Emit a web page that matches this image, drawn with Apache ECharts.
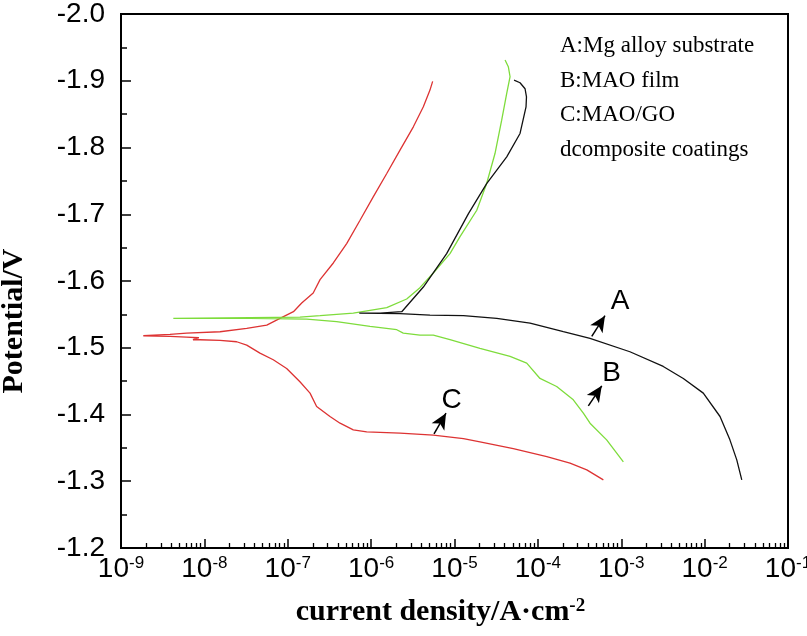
<!DOCTYPE html>
<html><head><meta charset="utf-8">
<script src="https://cdn.jsdelivr.net/npm/echarts@6/dist/echarts.min.js"></script>
<style>html,body{margin:0;padding:0;background:#fff}#c{width:807px;height:636px}</style>
</head><body><div id="c"></div>
<script>
// ---- data (current density in A/cm^2, potential in V) ----
const xTickExponents = [-9, -8, -7, -6, -5, -4, -3, -2, -1];

// A: Mg alloy substrate (black)
const currentA = [2.79e-2, 2.43e-2, 2.01e-2, 1.53e-2, 9.64e-3, 5.55e-3, 3.19e-3, 1.27e-3, 4.22e-4, 2.02e-4, 8.06e-5, 3.21e-5, 1.28e-5, 5.08e-6, 2.22e-6, 7.21e-7, 1.28e-6, 2.33e-6, 4.23e-6, 8.05e-6, 1.47e-5, 2.43e-5, 4.23e-5, 6.11e-5, 7.21e-5, 7.30e-5, 7.02e-5, 6.11e-5, 5.18e-5];
const potentialA = [-1.302, -1.332, -1.362, -1.397, -1.432, -1.454, -1.472, -1.494, -1.514, -1.524, -1.537, -1.544, -1.548, -1.549, -1.551, -1.552, -1.552, -1.554, -1.591, -1.641, -1.701, -1.746, -1.786, -1.821, -1.861, -1.876, -1.888, -1.897, -1.901];

// B: MAO film (green)
const currentB = [1.06e-3, 6.68e-4, 4.22e-4, 3.51e-4, 2.66e-4, 1.68e-4, 1.06e-4, 7.35e-5, 4.64e-5, 2.02e-5, 8.83e-6, 5.57e-6, 3.85e-6, 2.43e-6, 2.03e-6, 9.7e-7, 3.86e-7, 1.69e-7, 3.52e-8, 4.24e-9, 3.52e-8, 1.40e-7, 2.44e-7, 6.11e-7, 1.54e-6, 2.67e-6, 3.85e-6, 5.57e-6, 8.83e-6, 1.16e-5, 1.85e-5, 2.43e-5, 3.06e-5, 3.68e-5, 4.23e-5, 4.64e-5, 4.42e-5, 4.04e-5];
const potentialB = [-1.329, -1.362, -1.387, -1.402, -1.422, -1.442, -1.454, -1.477, -1.487, -1.499, -1.512, -1.519, -1.519, -1.522, -1.527, -1.532, -1.539, -1.543, -1.544, -1.544, -1.545, -1.546, -1.548, -1.552, -1.560, -1.573, -1.590, -1.612, -1.641, -1.666, -1.706, -1.746, -1.791, -1.841, -1.881, -1.906, -1.921, -1.931];

// C: MAO/GO composite coatings (red)
const currentC = [6.1e-4, 3.86e-4, 2.43e-4, 1.28e-4, 5.07e-5, 2.02e-5, 1.28e-5, 5.57e-6, 2.22e-6, 8.85e-7, 6.11e-7, 4.24e-7, 3.21e-7, 2.22e-7, 1.85e-7, 1.40e-7, 9.7e-8, 6.7e-8, 4.64e-8, 3.22e-8, 2.44e-8, 1.54e-8, 8.87e-9, 7.3e-9, 8.6e-9, 6.1e-9, 3.87e-9, 1.85e-9, 3.87e-9, 6.14e-9, 1.54e-8, 3.22e-8, 5.6e-8, 8.07e-8, 1.17e-7, 1.47e-7, 2.02e-7, 2.44e-7, 3.52e-7, 5.09e-7, 7.36e-7, 1.06e-6, 1.54e-6, 2.22e-6, 3.21e-6, 4.23e-6, 5.08e-6, 5.47e-6];
const potentialC = [-1.302, -1.317, -1.327, -1.337, -1.349, -1.359, -1.364, -1.369, -1.372, -1.374, -1.377, -1.387, -1.397, -1.412, -1.432, -1.449, -1.469, -1.482, -1.492, -1.504, -1.509, -1.511, -1.512, -1.512, -1.515, -1.516, -1.517, -1.518, -1.520, -1.522, -1.524, -1.529, -1.534, -1.544, -1.554, -1.567, -1.582, -1.602, -1.627, -1.656, -1.691, -1.726, -1.761, -1.796, -1.831, -1.861, -1.886, -1.899];

// annotations (label positions and arrows)
const annotationLabels = ['A', 'B', 'C'];
const annotationCurrent = [9.66e-4, 7.67e-4, 9.25e-6];
const annotationPotential = [-1.570, -1.462, -1.422];
const arrowStartCurrent = [4.43e-4, 4.03e-4, 5.68e-6];
const arrowStartPotential = [-1.517, -1.413, -1.371];
const arrowEndCurrent = [6.38e-4, 5.84e-4, 7.91e-6];
const arrowEndPotential = [-1.548, -1.443, -1.402];

const legendLines = ['A:Mg alloy substrate', 'B:MAO film', 'C:MAO/GO', 'dcomposite coatings'];

// ---- chart ----
const SANS = '"Liberation Sans", Arial, sans-serif';
const SERIF = '"Liberation Serif", "Times New Roman", serif';
const zip = (xs, ys) => xs.map((x, i) => [x, ys[i]]);

const minorTicks = [];
xTickExponents.slice(0, -1).forEach(e => { for (let k = 2; k <= 9; k++) minorTicks.push(e + Math.log10(k)); });

const chart = echarts.init(document.getElementById('c'), null, { renderer: 'canvas' });

const lineSeries = (name, xs, ys, color) => ({
  type: 'line', name, data: zip(xs, ys), showSymbol: false, symbol: 'none',
  lineStyle: { color, width: 1.3 }, itemStyle: { color }, z: 3
});

const seriesA = lineSeries('A', currentA, potentialA, '#111111');
seriesA.markLine = {
  silent: true, symbol: ['none', 'arrow'], symbolSize: [11, 16],
  label: { show: false },
  lineStyle: { type: 'solid', color: '#000', width: 1.5 },
  data: annotationLabels.map((_, i) => [
    { coord: [arrowStartCurrent[i], arrowStartPotential[i]] },
    { coord: [arrowEndCurrent[i], arrowEndPotential[i]] }
  ])
};
seriesA.markPoint = {
  silent: true, symbol: 'circle', symbolSize: 0.1,
  itemStyle: { color: 'rgba(0,0,0,0)' },
  label: { show: true, position: 'inside', formatter: '{b}', fontSize: 28, fontFamily: SANS, color: '#000' },
  data: annotationLabels.map((n, i) => ({ name: n, coord: [annotationCurrent[i], annotationPotential[i]] }))
};

const option = {
  animation: false,
  backgroundColor: '#fff',
  grid: { left: 121, right: 19, top: 14, bottom: 88, show: true, borderColor: '#000', borderWidth: 2, containLabel: false, outerBoundsMode: 'none' },
  xAxis: [
    {
      type: 'log', logBase: 10, min: 1e-9, max: 1e-1, splitNumber: 8, position: 'bottom',
      axisLine: { onZero: false, lineStyle: { color: '#000', width: 2 } },
      axisTick: { inside: true, length: 9, lineStyle: { color: '#000', width: 1.5 } },
      minorTick: { show: false },
      splitLine: { show: false },
      axisLabel: {
        margin: 7,
        formatter: v => '{b|10}{s|' + Math.round(Math.log10(v)) + '}',
        rich: {
          b: { fontSize: 28, fontFamily: SANS, color: '#000', lineHeight: 28, padding: [12, 0, 0, 0], verticalAlign: 'bottom' },
          s: { fontSize: 17, fontFamily: SANS, color: '#000', lineHeight: 18, verticalAlign: 'top' }
        }
      },
      name: '{t|current density/A·cm}{s|-2}', nameLocation: 'middle', nameGap: 48,
      nameTextStyle: {
        padding: [0, 28, 0, 0],
        rich: {
          t: { fontSize: 30, fontWeight: 'bold', fontFamily: SERIF, color: '#000', lineHeight: 30, padding: [9, 0, 0, 0], verticalAlign: 'bottom' },
          s: { fontSize: 19, fontWeight: 'bold', fontFamily: SERIF, color: '#000', lineHeight: 19, verticalAlign: 'top' }
        }
      }
    },
    {
      type: 'value', min: -9, max: -1, position: 'bottom',
      axisLine: { show: false, onZero: false },
      axisLabel: { show: false }, splitLine: { show: false },
      axisTick: { show: true, inside: true, length: 5, customValues: minorTicks, lineStyle: { color: '#000', width: 1.3 } }
    }
  ],
  yAxis: {
    type: 'value', inverse: true, min: -2.0, max: -1.2, interval: 0.1,
    axisLine: { show: true, onZero: false, lineStyle: { color: '#000', width: 2 } },
    axisTick: { inside: true, length: 10, lineStyle: { color: '#000', width: 1.5 } },
    minorTick: { show: true, splitNumber: 2, length: 6, lineStyle: { color: '#000', width: 1.5 } },
    splitLine: { show: false },
    axisLabel: { margin: 16, fontSize: 28, fontFamily: SANS, color: '#000', formatter: v => v.toFixed(1) },
    name: 'Potential/V', nameLocation: 'middle', nameRotate: 90, nameGap: 92,
    nameTextStyle: { fontFamily: SERIF, fontWeight: 'bold', fontSize: 30, color: '#000', padding: [0, 80, 0, 0] }
  },
  graphic: [{
    type: 'text', left: 560, top: 29, silent: true,
    style: { text: legendLines.join('\n'), fontSize: 23, fontFamily: SERIF, lineHeight: 34.5, fill: '#000' }
  }],
  series: [
    lineSeries('C', currentC, potentialC, '#dd3333'),
    lineSeries('B', currentB, potentialB, '#7edc3c'),
    seriesA
  ]
};
chart.setOption(option);
</script>
</body></html>
